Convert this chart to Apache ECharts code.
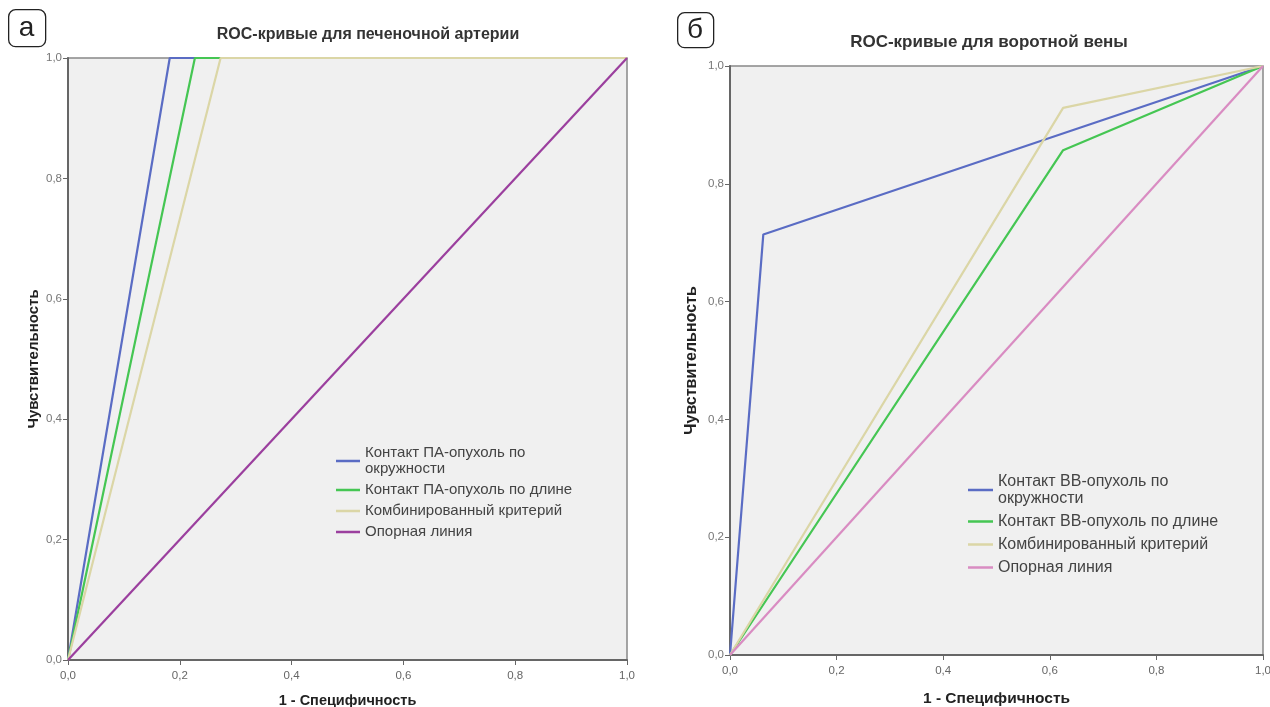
<!DOCTYPE html>
<html>
<head>
<meta charset="utf-8">
<script src="https://cdn.jsdelivr.net/npm/echarts@6/dist/echarts.min.js"></script>
<style>
html,body{margin:0;padding:0;background:#fff;}
#c{width:1270px;height:707px;}
</style>
</head>
<body>
<div id="c"></div>
<script>
// ---- data ----
const axisTicks = [0, 0.2, 0.4, 0.6, 0.8, 1.0];
const titleA = 'ROC-кривые для печеночной артерии';
const titleB = 'ROC-кривые для воротной вены';
const xName = '1 - Специфичность';
const yName = 'Чувствительность';

const namesA = ['Контакт ПА-опухоль по\nокружности', 'Контакт ПА-опухоль по длине', 'Комбинированный критерий', 'Опорная линия'];
const namesB = ['Контакт ВВ-опухоль по\nокружности', 'Контакт ВВ-опухоль по длине', 'Комбинированный критерий', 'Опорная линия'];

// panel а (hepatic artery): [1 - specificity, sensitivity]
const paCircum = [[0, 0], [0.182, 1], [1, 1]];
const paLength = [[0, 0], [0.227, 1], [1, 1]];
const paCombined = [[0, 0], [0.273, 1], [1, 1]];
const paRef = [[0, 0], [1, 1]];

// panel б (portal vein)
const vvCircum = [[0, 0], [0.0625, 0.714], [1, 1]];
const vvLength = [[0, 0], [0.625, 0.857], [1, 1]];
const vvCombined = [[0, 0], [0.625, 0.929], [1, 1]];
const vvRef = [[0, 0], [1, 1]];

const colorsA = ['#5a6cc4', '#45c653', '#dbd6a6', '#9b3f9e'];
const colorsB = ['#5a6cc4', '#45c653', '#dbd6a6', '#d98cc2'];

// ---- chart ----
const ZW = '\u200b';
const fmt = v => v.toFixed(1).replace('.', ',');
const font = '"Liberation Sans", Arial, sans-serif';

function xAxis(gi) {
  return {
    gridIndex: gi, type: 'value', min: 0, max: 1, interval: 0.2,
    name: xName, nameLocation: 'middle', nameGap: gi === 0 ? 33 : 36,
    nameTextStyle: {fontFamily: font, fontWeight: 'bold', fontSize: gi === 0 ? 14.5 : 15.5, color: '#222'},
    axisLine: {show: true, lineStyle: {color: '#666', width: 2}},
    axisTick: {show: true, length: 5, lineStyle: {color: '#666'}},
    axisLabel: {formatter: fmt, fontFamily: font, fontSize: 11.5, color: '#666', margin: 10},
    splitLine: {show: false}
  };
}
function yAxis(gi) {
  return {
    gridIndex: gi, type: 'value', min: 0, max: 1, interval: 0.2,
    name: yName, nameLocation: 'middle', nameGap: gi === 0 ? 27 : 30,
    nameTextStyle: {fontFamily: font, fontWeight: 'bold', fontSize: gi === 0 ? 15 : 16, color: '#222'},
    axisLine: {show: true, lineStyle: {color: '#666', width: 2}},
    axisTick: {show: true, length: 5, lineStyle: {color: '#666'}},
    axisLabel: {formatter: fmt, fontFamily: font, fontSize: 11.5, color: '#777', margin: 6},
    splitLine: {show: false}
  };
}
function line(name, data, color, gi, z) {
  return {
    name: name, type: 'line', xAxisIndex: gi, yAxisIndex: gi, data: data,
    showSymbol: false, symbol: 'none', clip: false, z: z,
    lineStyle: {color: color, width: 2.2}, itemStyle: {color: color},
    emphasis: {disabled: true}, animation: false
  };
}

const namesBKey = namesB.map(n => n + ZW);

const option = {
  animation: false,
  backgroundColor: '#fff',
  title: [
    {text: titleA, left: 363, top: 22, textAlign: 'center',
     textStyle: {fontFamily: font, fontWeight: 'bold', fontSize: 16, color: '#333'}},
    {text: titleB, left: 984, top: 29, textAlign: 'center',
     textStyle: {fontFamily: font, fontWeight: 'bold', fontSize: 17, color: '#333'}}
  ],
  grid: [
    {left: 68, right: 643, top: 58, bottom: 47, outerBoundsMode: 'none', containLabel: false,
     show: true, backgroundColor: '#f0f0f0', borderColor: '#888', borderWidth: 1.5},
    {left: 730, right: 7, top: 66, bottom: 52, outerBoundsMode: 'none', containLabel: false,
     show: true, backgroundColor: '#f0f0f0', borderColor: '#888', borderWidth: 1.5}
  ],
  xAxis: [xAxis(0), xAxis(1)],
  yAxis: [yAxis(0), yAxis(1)],
  legend: [
    {data: namesA, orient: 'vertical', left: 331, top: 440, itemGap: 5,
     icon: 'rect', itemWidth: 24, itemHeight: 2.5, selectedMode: false,
     textStyle: {fontFamily: font, fontSize: 15, lineHeight: 16, color: '#444'}},
    {data: namesBKey, orient: 'vertical', left: 963, top: 468, itemGap: 6,
     icon: 'rect', itemWidth: 25, itemHeight: 2.5, selectedMode: false,
     formatter: n => n.replace(ZW, ''),
     textStyle: {fontFamily: font, fontSize: 16, lineHeight: 17, color: '#444'}}
  ],
  series: [
    line(namesA[0], paCircum, colorsA[0], 0, 3),
    line(namesA[1], paLength, colorsA[1], 0, 4),
    line(namesA[2], paCombined, colorsA[2], 0, 5),
    line(namesA[3], paRef, colorsA[3], 0, 6),
    line(namesBKey[0], vvCircum, colorsB[0], 1, 3),
    line(namesBKey[1], vvLength, colorsB[1], 1, 4),
    line(namesBKey[2], vvCombined, colorsB[2], 1, 5),
    line(namesBKey[3], vvRef, colorsB[3], 1, 6)
  ],
  graphic: [
    {type: 'rect', left: 8, top: 9, shape: {width: 37, height: 37, r: 7},
     style: {fill: '#fff', stroke: '#222', lineWidth: 1.3}},
    {type: 'text', x: 26.5, y: 28, style: {text: 'а', font: '28px "Liberation Sans", Arial, sans-serif', fill: '#222', align: 'center', verticalAlign: 'middle'}},
    {type: 'rect', left: 677, top: 12, shape: {width: 36, height: 35, r: 7},
     style: {fill: '#fff', stroke: '#222', lineWidth: 1.3}},
    {type: 'text', x: 695, y: 30, style: {text: 'б', font: '28px "Liberation Sans", Arial, sans-serif', fill: '#222', align: 'center', verticalAlign: 'middle'}}
  ]
};

const chart = echarts.init(document.getElementById('c'), null, {renderer: 'canvas'});
chart.setOption(option);
</script>
</body>
</html>
